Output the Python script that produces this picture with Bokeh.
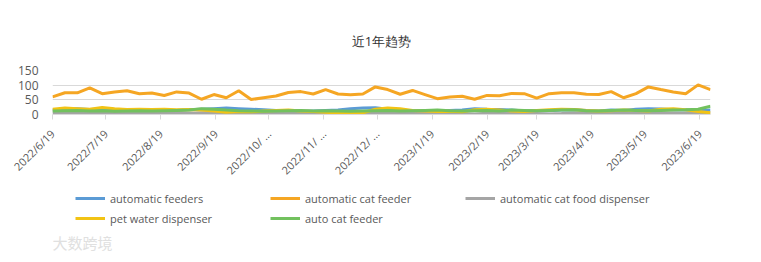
import pandas as pd
from bokeh.plotting import figure
from bokeh.layouts import column
from bokeh.models import (Range1d, FixedTicker, Legend, LegendItem, Label, ColumnDataSource)
from bokeh.embed import file_html
from bokeh.resources import INLINE

start_date = "2022-06-19"
end_date = "2023-06-25"
n_weeks = 54

automatic_cat_feeder = [60, 74, 74, 91, 71, 77, 81, 71, 73, 65,
                        77, 73, 52, 68, 57, 81, 51, 57, 63, 75,
                        78, 70, 85, 70, 67, 70, 94, 85, 69, 82,
                        68, 54, 60, 62, 52, 65, 64, 72, 71, 56,
                        71, 74, 74, 69, 68, 78, 57, 71, 94, 85,
                        77, 71, 101, 85]
automatic_feeders = [15, 18, 20, 17, 19, 15, 14, 13, 14, 15,
                     14, 16, 18, 20, 22, 20, 18, 16, 14, 13,
                     12, 12, 14, 15, 20, 22, 23, 18, 14, 12,
                     13, 12, 14, 15, 20, 18, 17, 15, 12, 14,
                     13, 15, 16, 14, 12, 15, 14, 18, 20, 19,
                     16, 15, 14, 15]
pet_water_dispenser = [18, 22, 20, 18, 24, 20, 17, 18, 17, 18,
                       16, 17, 15, 12, 8, 10, 9, 12, 14, 15,
                       12, 10, 8, 5, 3, 6, 18, 22, 20, 14,
                       12, 10, 11, 9, 16, 18, 15, 12, 10, 14,
                       16, 18, 17, 14, 12, 13, 15, 14, 12, 18,
                       20, 16, 10, 6]
automatic_cat_food_dispenser = [5, 6, 7, 6, 5, 6, 5, 6, 7, 6,
                                5, 4, 6, 7, 5, 6, 5, 4, 6, 5,
                                6, 7, 5, 4, 6, 5, 4, 3, 5, 6,
                                7, 5, 4, 3, 2, 4, 5, 6, 4, 3,
                                2, 3, 5, 4, 6, 5, 4, 3, 5, 6,
                                5, 4, 6, 5]
auto_cat_feeder = [12, 13, 14, 12, 13, 11, 12, 13, 12, 13,
                   14, 15, 20, 18, 15, 13, 12, 11, 12, 13,
                   14, 12, 13, 12, 11, 12, 13, 14, 12, 13,
                   14, 15, 13, 12, 13, 14, 12, 15, 14, 13,
                   14, 15, 16, 13, 12, 14, 15, 14, 13, 14,
                   15, 16, 18, 28]

tick_dates = ["2022-06-19", "2022-07-19", "2022-08-19", "2022-09-19", "2022-10-19",
              "2022-11-19", "2022-12-19", "2023-01-19", "2023-02-19", "2023-03-19",
              "2023-04-19", "2023-05-19", "2023-06-19"]
tick_labels = ["2022/6/19", "2022/7/19", "2022/8/19", "2022/9/19", "2022/10/ ...",
               "2022/11/ ...", "2022/12/ ...", "2023/1/19", "2023/2/19", "2023/3/19",
               "2023/4/19", "2023/5/19", "2023/6/19"]
y_ticks = [0, 50, 100, 150]

t0 = pd.Timestamp(start_date)
dates = pd.date_range(start_date, periods=n_weeks, freq="7D")
xdays = [int((d - t0).days) for d in dates]
tick_days = [int((pd.Timestamp(d) - t0).days) for d in tick_dates]
x_end = int((pd.Timestamp(end_date) - t0).days)

FONT = "Open Sans"
GRAY_TXT = "#595959"

p = figure(width=761, height=190, output_backend="svg", toolbar_location=None,
           x_range=Range1d(0, x_end), y_range=Range1d(0, 150),
           min_border_left=52, min_border_right=51, min_border_top=70, min_border_bottom=76)
p.outline_line_color = None
p.background_fill_color = "white"
p.border_fill_color = "white"

p.title.text = "近1年趋势"
p.title.align = "center"
p.title.text_font = FONT
p.title.text_font_size = "13px"
p.title.text_font_style = "normal"
p.title.text_color = "#333333"
p.title.standoff = 42

p.xgrid.grid_line_color = None
p.ygrid.grid_line_color = "#d9d9d9"
p.ygrid.ticker = FixedTicker(ticks=y_ticks)

p.yaxis.ticker = FixedTicker(ticks=y_ticks)
p.yaxis.axis_line_color = None
p.yaxis.major_tick_line_color = None
p.yaxis.minor_tick_line_color = None
p.yaxis.major_label_text_font = FONT
p.yaxis.major_label_text_font_size = "12px"
p.yaxis.major_label_text_color = GRAY_TXT
p.yaxis.major_label_standoff = 8

p.xaxis.ticker = FixedTicker(ticks=tick_days)
p.xaxis.major_label_overrides = {d: l for d, l in zip(tick_days, tick_labels)}
p.xaxis.major_label_orientation = 0.785398
p.xaxis.axis_line_color = "#d9d9d9"
p.xaxis.major_tick_line_color = "#d9d9d9"
p.xaxis.major_tick_in = 0
p.xaxis.major_tick_out = 5
p.xaxis.minor_tick_line_color = None
p.xaxis.major_label_text_font = FONT
p.xaxis.major_label_text_font_size = "11px"
p.xaxis.major_label_text_color = GRAY_TXT
p.xaxis.major_label_standoff = 12

series = [
    ("automatic feeders", automatic_feeders, "#5B9BD5"),
    ("automatic cat feeder", automatic_cat_feeder, "#F5A623"),
    ("automatic cat food dispenser", automatic_cat_food_dispenser, "#A5A5A5"),
    ("pet water dispenser", pet_water_dispenser, "#F2C314"),
    ("auto cat feeder", auto_cat_feeder, "#72C15E"),
]

# legend strip (separate figure below the chart; its frame is aligned with the chart's)
leg = figure(width=761, height=72, output_backend="svg", toolbar_location=None,
             x_range=Range1d(0, 1), y_range=Range1d(0, 1),
             min_border_left=0, min_border_right=0, min_border_top=0, min_border_bottom=0)
leg.outline_line_color = None
leg.axis.visible = False
leg.grid.visible = False
leg.border_fill_color = "white"

items = []
for name, vals, col in series:
    src = ColumnDataSource(dict(x=xdays, y=vals))
    p.line("x", "y", source=src, line_color=col, line_width=3)
    r = leg.line(x=[5, 6], y=[5, 6], line_color=col, line_width=3)
    items.append(LegendItem(label=name, renderers=[r]))

legend = Legend(items=items, location=(23, 34), ncols=3, orientation="horizontal",
                glyph_width=30, glyph_height=20, label_height=20, label_width=160,
                label_standoff=5, spacing=0, padding=0, margin=0,
                label_text_font=FONT, label_text_font_size="11px", label_text_color=GRAY_TXT,
                border_line_color=None, background_fill_alpha=0)
leg.add_layout(legend, "center")

wm = Label(x=0, y=20, x_units="screen", y_units="screen", text="大数跨境",
           text_align="left", text_baseline="middle", text_font="Noto Sans CJK SC",
           text_font_size="15px", text_color="#e0e0e0")
leg.add_layout(wm)

layout = column(p, leg, spacing=0)
open("out.html", "w").write(file_html(layout, INLINE))
